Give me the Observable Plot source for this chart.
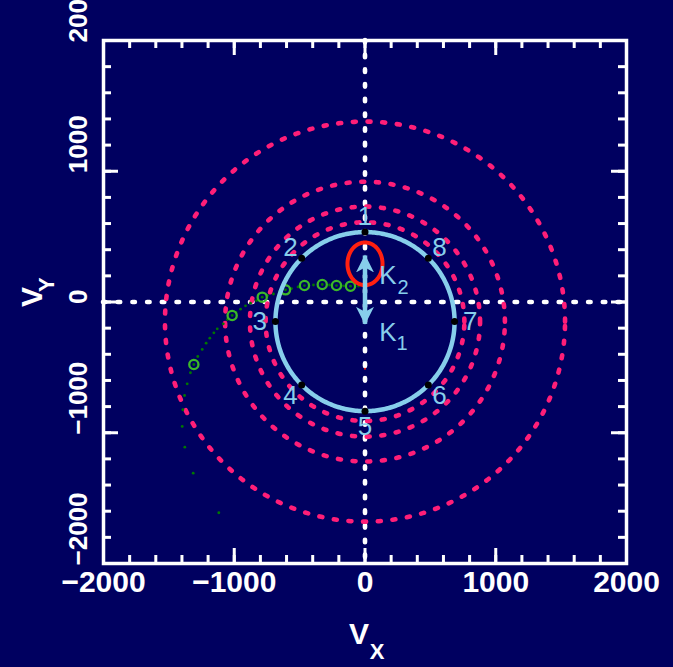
<!DOCTYPE html>
<html>
<head>
<meta charset="utf-8">
<script src="https://cdn.jsdelivr.net/npm/d3@7"></script>
<script src="https://cdn.jsdelivr.net/npm/@observablehq/plot@0.6"></script>
<style>
  html, body { margin: 0; padding: 0; background: #000060; }
  #chart svg { display: block; }
</style>
</head>
<body>
<div id="chart"></div>
<script>
// ---- Axes -------------------------------------------------------------
const tickValues = [-2000, -1000, 0, 1000, 2000];
const tickLabels = ["\u22122000", "\u22121000", "0", "1000", "2000"];
const minorTicks = d3.range(-2000, 2001, 200);

// ---- Velocity-space geometry (km/s) ------------------------------------
const orbitCenterVy = -150;            // centre of the primary's velocity circle
const orbitRadius = 685;               // radius of the phase circle
const phaseLabelRadius = 805;          // where the phase numbers sit
const phaseLabels = ["1", "2", "3", "4", "5", "6", "7", "8"];
const ringRadii = [760, 880, 1070, 1530];
const K1 = 167;
const K2 = 356;
const lobeCenterVy = 292;
const lobeRx = 134;
const lobeRy = 163;

// Ballistic stream samples
const streamVx = [-50, -111, -164, -218, -272, -327, -394, -463, -512, -562, -608, -654, -700, -746, -786,
  -830, -876, -914, -952, -987, -1016, -1052, -1084, -1130, -1156, -1187, -1215, -1245, -1279, -1309,
  -1335, -1360, -1380, -1393, -1398, -1378, -1314, -1118];
const streamVy = [122, 121, 124, 126, 130, 134, 130, 126, 115, 103, 93, 80, 61, 50, 37,
  11, -9, -29, -55, -80, -103, -134, -167, -205, -236, -277, -315, -363, -417, -478,
  -541, -626, -715, -824, -952, -1110, -1309, -1612];
// Samples marked with open circles
const markedVx = [-111, -218, -327, -463, -608, -786, -1016, -1309];
const markedVy = [121, 126, 134, 126, 93, 37, -103, -478];

// ---- Colours -------------------------------------------------------------
const navy = "#000060";
const pink = "#ff1e78";
const sky = "#87ceeb";
const green = "#3cb82a";
const darkGreen = "#007800";
const red = "#ff2010";

// ---- Derived tables ------------------------------------------------------
function ellipse(cx, cy, rx, ry, id) {
  return d3.range(0, 361, 1).map(a => ({
    x: cx + rx * Math.cos(a * Math.PI / 180),
    y: cy + ry * Math.sin(a * Math.PI / 180),
    id
  }));
}
const rings = ringRadii.flatMap((r, i) => ellipse(0, orbitCenterVy, r, r, i));
const orbit = ellipse(0, orbitCenterVy, orbitRadius, orbitRadius, 0);
const lobe = ellipse(0, lobeCenterVy, lobeRx, lobeRy, 0);
const phases = phaseLabels.map((label, i) => {
  const a = (90 + 45 * i) * Math.PI / 180;
  return {
    label,
    x: orbitRadius * Math.cos(a),
    y: orbitCenterVy + orbitRadius * Math.sin(a),
    lx: phaseLabelRadius * Math.cos(a),
    ly: orbitCenterVy + phaseLabelRadius * Math.sin(a)
  };
});
const stream = streamVx.map((x, i) => ({x, y: streamVy[i]}));
const marked = markedVx.map((x, i) => ({x, y: markedVy[i]}));
const arrows = [
  {x1: 0, y1: 0, x2: 0, y2: K2},
  {x1: 0, y1: 0, x2: 0, y2: -K1}
];

// Solid arrowhead used at both ends of the K1/K2 arrow
function solidHead(color) {
  const m = d3.create("svg:marker")
    .attr("viewBox", "-17 -10 19 20")
    .attr("markerWidth", 19)
    .attr("markerHeight", 20)
    .attr("markerUnits", "userSpaceOnUse")
    .attr("orient", "auto")
    .attr("fill", color)
    .attr("stroke", "none");
  m.append("path").attr("d", "M1,0L-17,-9L-12,0L-17,9Z");
  return m.node();
}

const W = 673, H = 667;
const mL = 103, mR = 47, mT = 40, mB = 104;
const innerW = W - mL - mR, innerH = H - mT - mB;
const minorLen = 8, majorLen = 15;
const majorInner = [-1000, 0, 1000];

const tickStyle = {stroke: "white", strokeWidth: 3};
const dotted = {strokeDasharray: "2.5 12.2", strokeLinecap: "round"};
const bold = {fill: "white", fontWeight: "bold", fontFamily: "Liberation Sans, Arial, sans-serif"};
const thin = {fill: sky, fontFamily: "Liberation Sans, Arial, sans-serif"};

const chart = Plot.plot({
  width: W,
  height: H,
  marginLeft: mL,
  marginRight: mR,
  marginTop: mT,
  marginBottom: mB,
  x: {domain: [-2000, 2000], axis: null},
  y: {domain: [-2000, 2000], axis: null},
  style: {background: navy, overflow: "visible"},
  marks: [
    // dotted zero lines
    Plot.ruleX([0], {stroke: "white", strokeWidth: 4.6, ...dotted}),
    Plot.ruleY([0], {stroke: "white", strokeWidth: 4.6, ...dotted}),

    // dotted velocity rings
    Plot.line(rings, {x: "x", y: "y", z: "id", stroke: pink, strokeWidth: 4.6,
      strokeDasharray: "3 11.7", strokeLinecap: "round"}),

    // gas stream trajectory
    Plot.dot(stream, {x: "x", y: "y", r: 1.4, fill: darkGreen}),
    Plot.dot(marked, {x: "x", y: "y", r: 4.6, stroke: green, strokeWidth: 2.3, fill: "none"}),

    // phase circle
    Plot.line(orbit, {x: "x", y: "y", stroke: sky, strokeWidth: 4.5}),

    // secondary's Roche lobe
    Plot.line(lobe, {x: "x", y: "y", stroke: red, strokeWidth: 4}),
    Plot.dot([{x: 0, y: -510}], {x: "x", y: "y", r: 1, fill: red}),

    // K1 / K2 arrow
    Plot.link(arrows, {x1: "x1", y1: "y1", x2: "x2", y2: "y2", stroke: sky, strokeWidth: 4.5,
      markerEnd: solidHead}),
    Plot.text(["K"], {x: 0, y: K2, text: d => d, dx: 23, dy: 20, fontSize: 26, ...thin}),
    Plot.text(["2"], {x: 0, y: K2, text: d => d, dx: 38, dy: 32, fontSize: 20, ...thin}),
    Plot.text(["K"], {x: 0, y: -K1, text: d => d, dx: 23, dy: 9, fontSize: 26, ...thin}),
    Plot.text(["1"], {x: 0, y: -K1, text: d => d, dx: 37, dy: 20, fontSize: 20, ...thin}),

    // phase markers and numbers
    Plot.dot(phases, {x: "x", y: "y", r: 3.5, fill: "black"}),
    Plot.text(phases, {x: "lx", y: "ly", text: "label", fontSize: 26, ...thin}),

    // frame and inward ticks on all four sides
    Plot.frame({stroke: "white", strokeWidth: 3.5}),
    Plot.ruleX(minorTicks, {...tickStyle, insetTop: innerH - minorLen}),
    Plot.ruleX(minorTicks, {...tickStyle, insetBottom: innerH - minorLen}),
    Plot.ruleY(minorTicks, {...tickStyle, insetRight: innerW - minorLen}),
    Plot.ruleY(minorTicks, {...tickStyle, insetLeft: innerW - minorLen}),
    Plot.ruleX(majorInner, {...tickStyle, insetTop: innerH - majorLen}),
    Plot.ruleX(majorInner, {...tickStyle, insetBottom: innerH - majorLen}),
    Plot.ruleY(majorInner, {...tickStyle, insetRight: innerW - majorLen}),
    Plot.ruleY(majorInner, {...tickStyle, insetLeft: innerW - majorLen}),

    // tick labels
    Plot.text(tickValues, {x: d => d, text: (d, i) => tickLabels[i], frameAnchor: "bottom",
      dy: 28, fontSize: 30, ...bold}),
    Plot.text(tickValues, {y: d => d, text: (d, i) => tickLabels[i], frameAnchor: "left",
      dx: -25, dy: 2, rotate: -90, fontSize: 26, ...bold}),

    // axis titles
    Plot.text(["V"], {x: 0, text: d => d, frameAnchor: "bottom", dx: -6, dy: 80, fontSize: 30, ...bold}),
    Plot.text(["X"], {x: 0, text: d => d, frameAnchor: "bottom", dx: 12, dy: 95, fontSize: 22, ...bold}),
    Plot.text(["V"], {y: 0, text: d => d, frameAnchor: "left", dx: -71, dy: 5, rotate: -90, fontSize: 30, ...bold}),
    Plot.text(["Y"], {y: 0, text: d => d, frameAnchor: "left", dx: -57, dy: -10, rotate: -90, fontSize: 22, ...bold})
  ]
});

document.getElementById("chart").appendChild(chart);
</script>
</body>
</html>
